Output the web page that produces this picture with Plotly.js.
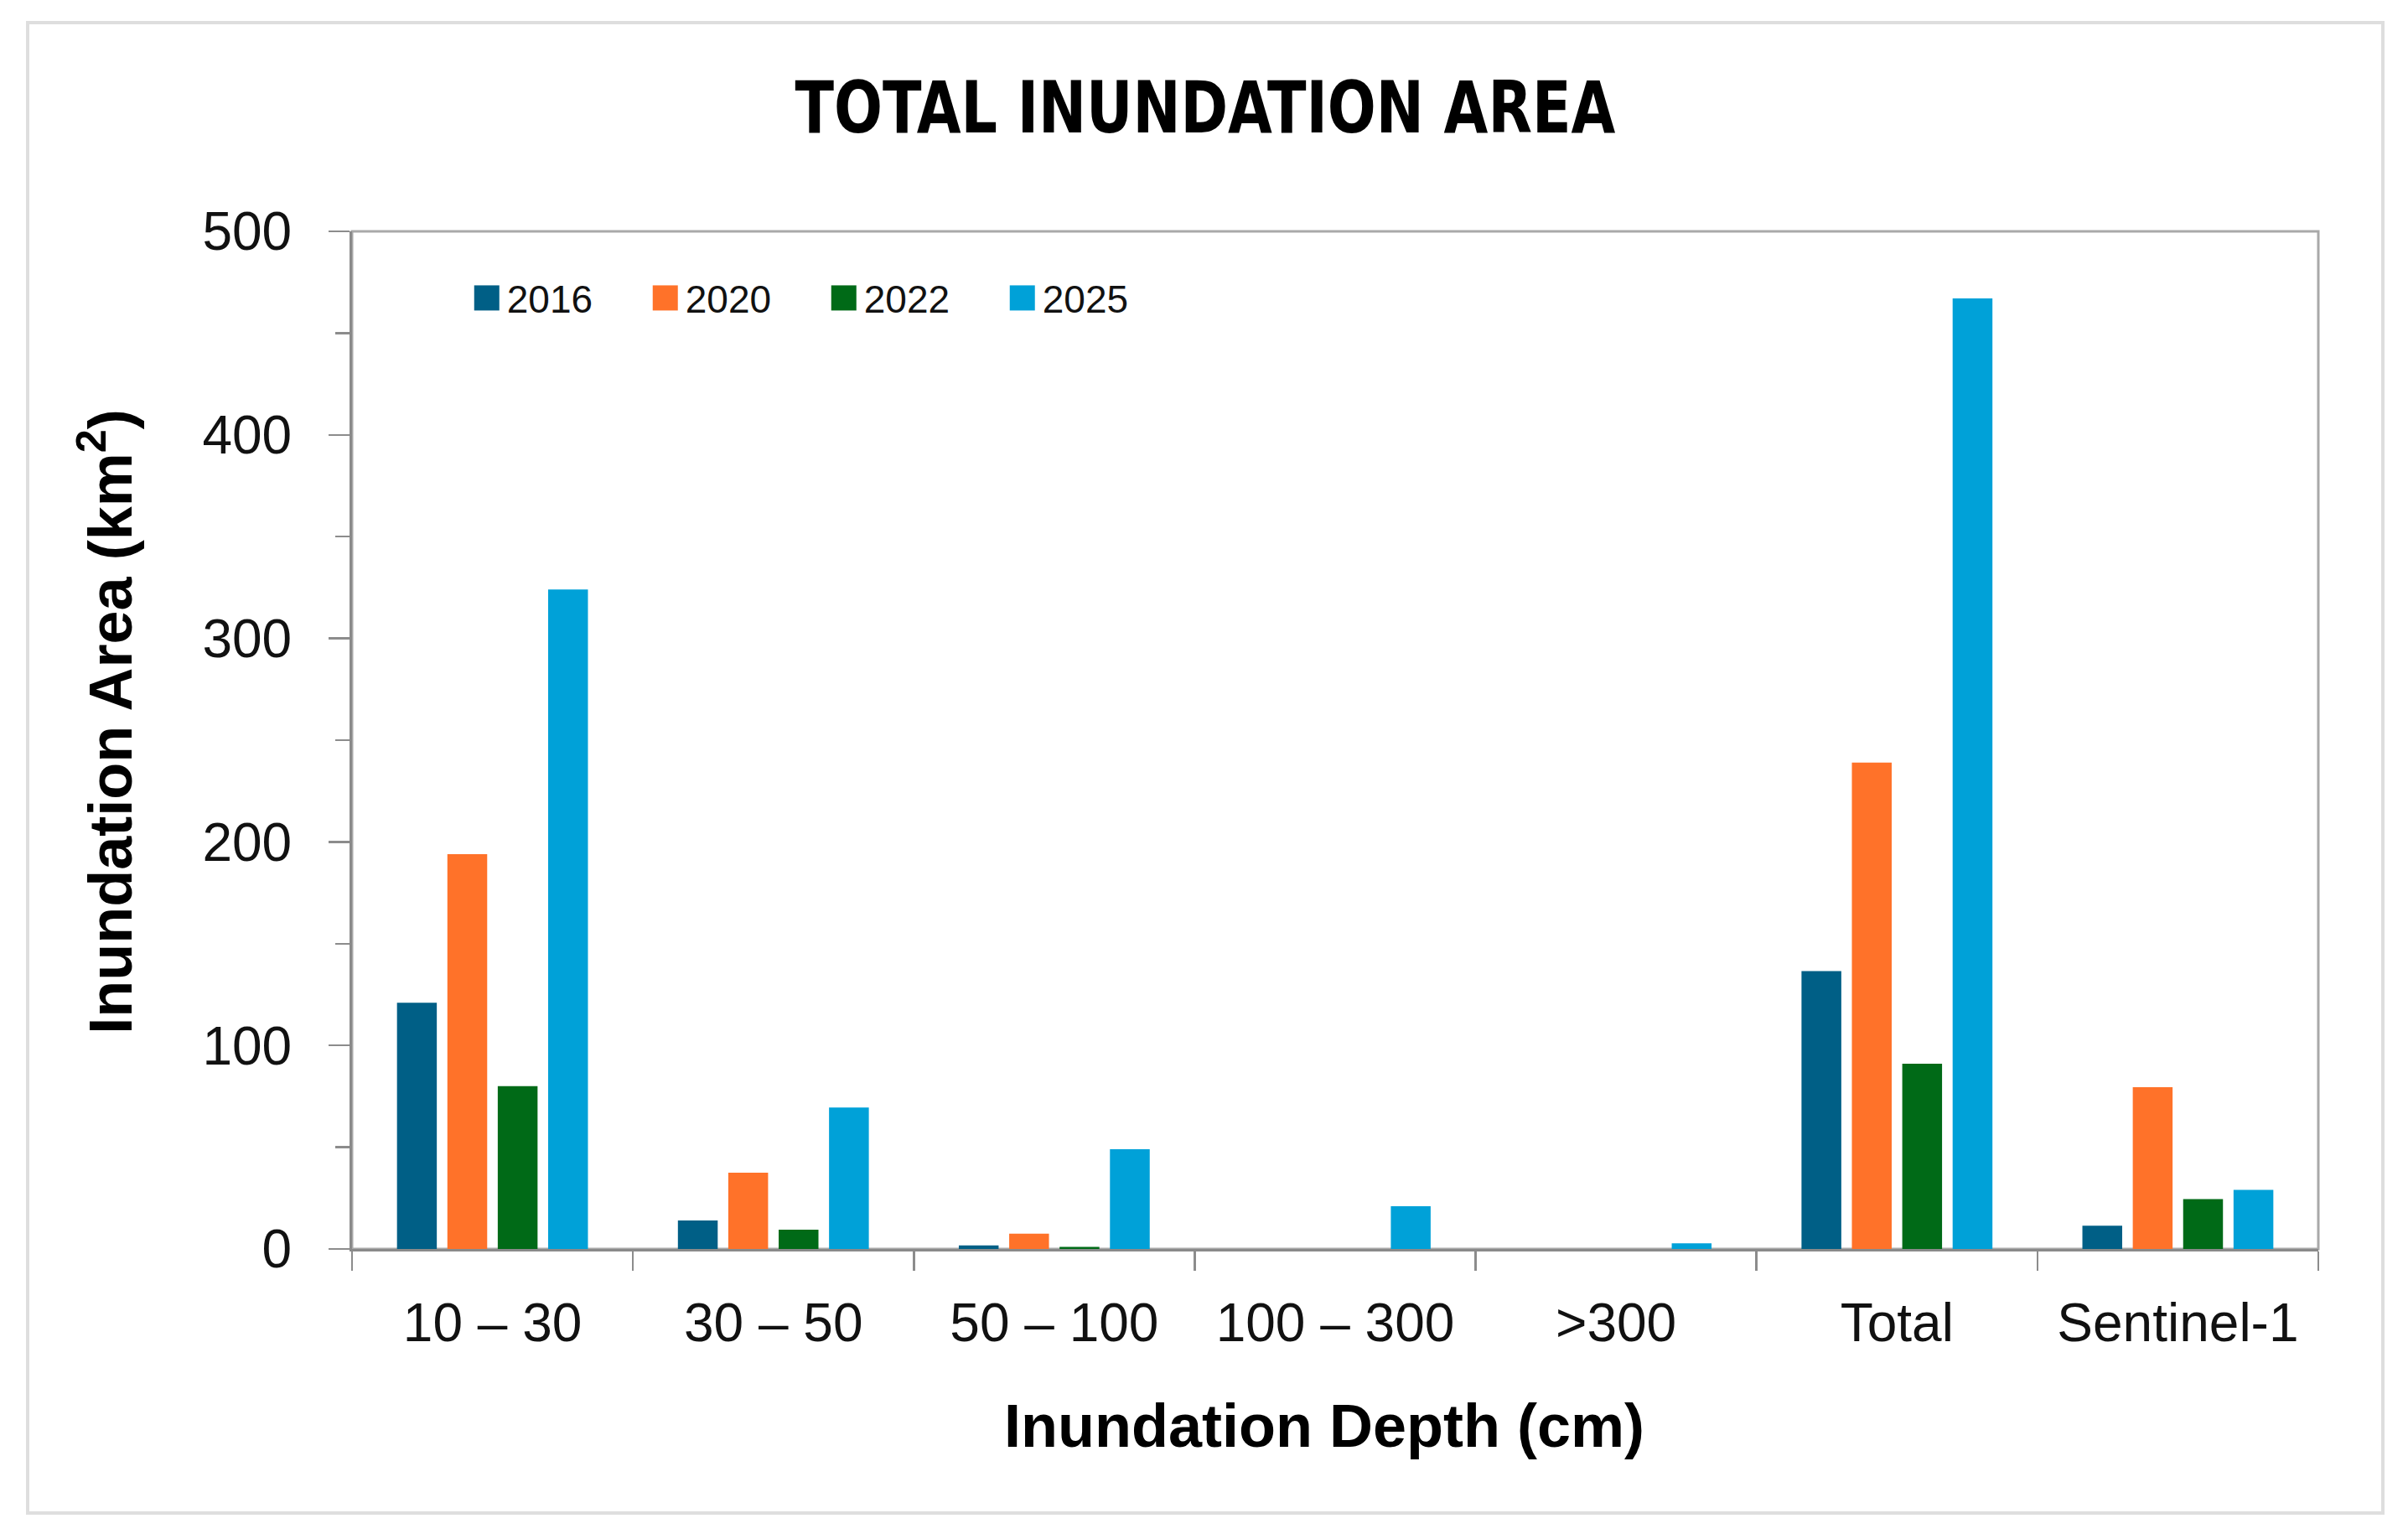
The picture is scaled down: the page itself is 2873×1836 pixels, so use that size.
<!DOCTYPE html>
<html>
<head>
<meta charset="utf-8">
<script src="https://cdn.plot.ly/plotly-3.0.1.min.js"></script>
<style>
html,body{margin:0;padding:0;background:#ffffff;}
#wrap{position:relative;width:2873px;height:1836px;}
#chart{width:2873px;height:1836px;}
#frame{position:absolute;left:31px;top:25px;width:2806px;height:1774px;border:4px solid #dedede;pointer-events:none;}
</style>
</head>
<body>
<div id="wrap"><div id="chart"></div><div id="frame"></div></div>
<script>
// ---- data ----
const categories = ['10 – 30', '30 – 50', '50 – 100', '100 – 300', '>300', 'Total', 'Sentinel-1'];
const years = ['2016', '2020', '2022', '2025'];
const area2016 = [121, 14, 1.8, 0, 0, 136.5, 11.4];
const area2020 = [194, 37.5, 7.5, 0, 0, 239, 79.5];
const area2022 = [80, 9.5, 1, 0, 0, 91, 24.5];
const area2025 = [324, 69.5, 49, 21, 2.8, 467, 29];
const yTickVals = [0, 100, 200, 300, 400, 500];

const colors = ['#005f86', '#ff7229', '#006a17', '#00a1d8'];
const series = [area2016, area2020, area2022, area2025];

const traces = series.map((vals, i) => ({
  type: 'bar',
  name: years[i],
  x: categories,
  y: vals,
  marker: {color: colors[i], line: {width: 0}},
  hoverinfo: 'x+y+name'
}));

const boundaries = categories.map((c, i) => i - 0.5).concat([categories.length - 0.5]);
const tickCol = '#8c8c8c';
const baseFont = 'Liberation Sans, Arial, sans-serif';

const layout = {
  width: 2873,
  height: 1836,
  margin: {l: 420, r: 107, t: 276, b: 346, pad: 0},
  paper_bgcolor: '#ffffff',
  plot_bgcolor: '#ffffff',
  font: {family: baseFont, color: '#111111', size: 46},
  title: {
    text: 'TOTAL INUNDATION AREA',
    font: {family: 'Liberation Sans Narrow, DejaVu Sans Condensed, Arial Narrow, sans-serif', size: 86, weight: 700, color: '#000000'},
    x: 0.5005, xref: 'container', xanchor: 'center',
    y: 1 - 128 / 1836, yref: 'container', yanchor: 'middle'
  },
  barmode: 'group',
  bargap: 0.2826,
  bargroupgap: 0.21,
  showlegend: true,
  legend: {
    orientation: 'h',
    x: 0.0617, xanchor: 'left',
    y: 0.9345, yanchor: 'middle',
    font: {size: 46, color: '#111111', family: baseFont},
    bgcolor: 'rgba(0,0,0,0)',
    entrywidth: 168,
    entrywidthmode: 'pixels',
    traceorder: 'normal'
  },
  xaxis: {
    type: 'category',
    categoryorder: 'array',
    categoryarray: categories,
    range: [-0.5, categories.length - 0.5],
    tickson: 'boundaries',
    ticks: 'outside',
    ticklen: 23,
    tickwidth: 2.5,
    tickcolor: tickCol,
    showline: true,
    linecolor: '#8a8a8a',
    linewidth: 3,
    showgrid: false,
    zeroline: false,
    tickfont: {size: 64, color: '#111111'},
    ticklabelstandoff: 30,
    title: {text: 'Inundation Depth (cm)', font: {size: 72, weight: 700, color: '#000000'}, standoff: 63},
    fixedrange: true
  },
  yaxis: {
    range: [0, 500],
    tickmode: 'array',
    tickvals: yTickVals,
    ticks: 'outside',
    ticklen: 25,
    tickwidth: 2.5,
    tickcolor: tickCol,
    minor: {ticks: 'outside', ticklen: 17, dtick: 50, tickwidth: 2.5, tickcolor: tickCol, showgrid: false},
    showline: true,
    linecolor: '#8a8a8a',
    linewidth: 3,
    showgrid: false,
    zeroline: false,
    tickfont: {size: 64, color: '#111111'},
    ticklabelstandoff: 31,
    title: {text: 'Inundation Area (km<sup>2</sup>)', font: {size: 72, weight: 700, color: '#000000'}, standoff: 61},
    fixedrange: true
  },
  xaxis2: {
    overlaying: 'x',
    anchor: 'y',
    range: [-0.5, categories.length - 0.5],
    tickmode: 'array',
    tickvals: boundaries,
    ticks: 'inside',
    ticklen: 22,
    tickwidth: 2.5,
    tickcolor: tickCol,
    showticklabels: false,
    showgrid: false,
    zeroline: false,
    showline: false,
    fixedrange: true
  },
  yaxis2: {
    overlaying: 'y',
    anchor: 'x',
    side: 'left',
    range: [0, 500],
    tickmode: 'array',
    tickvals: yTickVals,
    ticks: 'inside',
    ticklen: 22,
    tickwidth: 2.5,
    tickcolor: tickCol,
    minor: {ticks: 'inside', ticklen: 15, dtick: 50, tickwidth: 2.5, tickcolor: tickCol, showgrid: false},
    showticklabels: false,
    showgrid: false,
    zeroline: false,
    showline: false,
    fixedrange: true
  },
  shapes: [{
    type: 'rect', xref: 'x domain', yref: 'y domain',
    x0: 0, x1: 1, y0: 0, y1: 1,
    line: {color: '#a9a9a9', width: 3},
    fillcolor: 'rgba(0,0,0,0)',
    layer: 'below'
  }]
};

function polish(gd) {
  // no clipping of the legend, and larger square swatches like the reference
  gd.querySelectorAll('.legend [clip-path]').forEach(e => e.removeAttribute('clip-path'));
  gd.querySelectorAll('.legend .legendpoints path').forEach(p => {
    p.removeAttribute('transform');
    p.setAttribute('d', 'M31,15H1V-15H31Z');
  });
  // condense the title horizontally to match the narrow bold face of the reference
  const t = gd.querySelector('.gtitle');
  if (t) {
    const bb = t.getBBox();
    const target = 979;
    if (bb.width > 0) {
      const s = target / bb.width;
      const cx = bb.x + bb.width / 2;
      t.setAttribute('transform', 'translate(' + (cx * (1 - s)) + ',0) scale(' + s + ',1)');
    }
  }
  // small placement nudges of the axis titles
  const yt = gd.querySelector('.ytitle');
  if (yt) {
    const old = yt.getAttribute('transform') || '';
    yt.setAttribute('transform', 'translate(0,-22) ' + old);
  }
  const xt = gd.querySelector('.xtitle');
  if (xt) {
    const old = xt.getAttribute('transform') || '';
    xt.setAttribute('transform', 'translate(-13,0) ' + old);
  }
}

Plotly.newPlot('chart', traces, layout, {displayModeBar: false, staticPlot: true}).then(gd => {
  polish(gd);
});
</script>
</body>
</html>
